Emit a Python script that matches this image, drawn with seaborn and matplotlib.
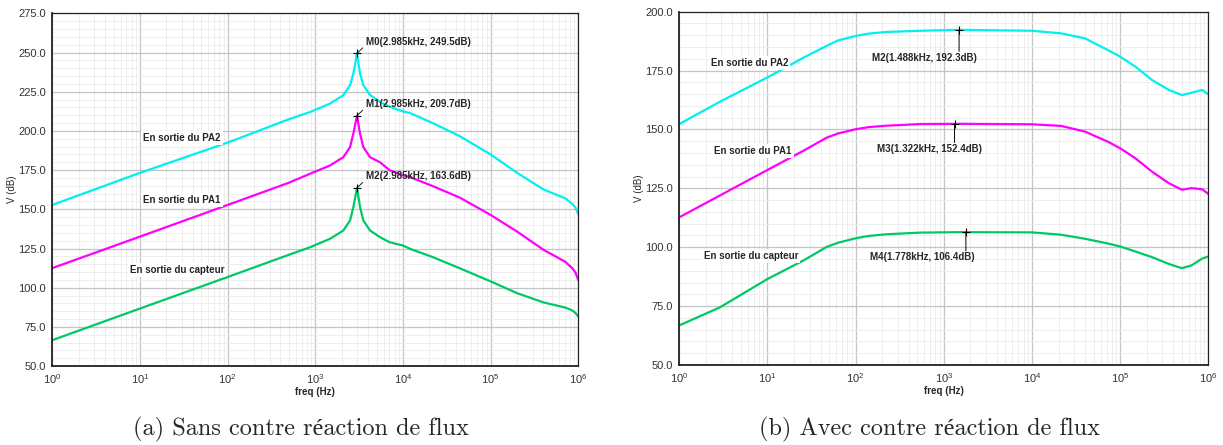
import matplotlib
matplotlib.use("Agg")
import matplotlib.pyplot as plt
import matplotlib.ticker as mticker
import pandas as pd
import seaborn as sns

# --- (a) sans contre reaction de flux ---
left_freq = [1, 10, 100, 500, 869, 1470, 2085, 2488, 2713, 2985, 3235, 3525, 4205,
             5470, 7030, 10000, 12000, 21900, 44700, 1e5, 2e5, 4e5, 7.1e5, 8.5e5, 9.3e5, 1e6]
left_pa2 = [152.8, 173.3, 192.6, 207.5, 212.1, 217.5, 222.8, 229.2, 236.6, 249.5, 236.6, 229.2, 223.0,
            218.5, 215.5, 212.5, 211.5, 205.0, 196.6, 185.0, 173.3, 162.7, 157.0, 153.5, 151.0, 146.8]
left_pa1 = [112.5, 132.6, 152.8, 167.0, 172.7, 178.0, 183.3, 189.7, 198.3, 209.7, 198.3, 189.7, 183.3,
            180.0, 175.0, 171.6, 170.6, 164.8, 157.4, 146.4, 135.8, 124.2, 116.5, 112.5, 109.5, 104.7]
left_capteur = [66.5, 86.7, 106.8, 121.0, 125.8, 131.2, 136.5, 142.9, 151.4, 163.6, 151.4, 142.9, 136.5,
                132.2, 129.0, 126.9, 124.8, 119.5, 112.3, 104.0, 96.5, 90.6, 87.3, 85.5, 83.8, 81.4]
left_markers = [("M0", 2985, 249.5), ("M1", 2985, 209.7), ("M2", 2985, 163.6)]

# --- (b) avec contre reaction de flux ---
right_freq = [1, 2.9, 10, 25.7, 46.8, 63, 100, 141, 224, 537, 1488, 10000, 21400, 39800, 72400,
              1e5, 148000, 229000, 355000, 500000, 646000, 851000, 1e6]
right_pa2 = [152.3, 161.8, 172.1, 180.5, 185.5, 187.8, 189.7, 190.7, 191.4, 191.9, 192.3, 191.9, 190.8,
             188.7, 183.7, 180.9, 176.7, 171.0, 166.8, 164.6, 165.6, 166.8, 164.9]
right_pa1 = [112.7, 122.0, 132.8, 141.0, 146.5, 148.3, 150.1, 151.0, 151.6, 152.3, 152.4, 152.2, 151.5,
             149.1, 144.8, 142.0, 137.8, 132.1, 127.2, 124.4, 125.1, 124.6, 122.6]
right_capteur = [66.8, 74.5, 86.5, 94.4, 100.1, 101.9, 103.8, 104.8, 105.5, 106.2, 106.4, 106.3, 105.3,
                 103.6, 101.6, 100.3, 98.2, 95.8, 92.9, 91.1, 92.3, 95.2, 96.1]
right_markers = [("M2", 1488, 192.3), ("M3", 1322, 152.4), ("M4", 1778, 106.4)]

series_names = ["En sortie du PA2", "En sortie du PA1", "En sortie du capteur"]
colors = ["#00f0f0", "#ff00ff", "#00c864"]
decades = [1, 10, 100, 1e3, 1e4, 1e5, 1e6]


def khz(f):
    return f"{f / 1000:.3f}kHz"


sns.set_style("white")
plt.rcParams["font.family"] = ["Liberation Sans", "DejaVu Sans"]

fig = plt.figure(figsize=(12.23, 4.45), dpi=100)
ax1 = fig.add_axes([0.0428, 0.1775, 0.4301, 0.7922])
ax2 = fig.add_axes([0.5554, 0.1798, 0.4327, 0.7939])


def setup(ax, ylo, yhi):
    ax.set_xscale("log")
    ax.set_xlim(1, 1e6)
    ax.set_ylim(ylo, yhi)
    ax.yaxis.set_major_locator(mticker.MultipleLocator(25))
    ax.yaxis.set_minor_locator(mticker.MultipleLocator(5))
    ax.yaxis.set_major_formatter(mticker.FormatStrFormatter("%.1f"))
    ax.xaxis.set_major_locator(mticker.FixedLocator(decades))
    ax.xaxis.set_major_formatter(mticker.LogFormatterSciNotation())
    minors = [d * k for d in decades[:-1] for k in range(2, 10)]
    ax.xaxis.set_minor_locator(mticker.FixedLocator(minors))
    ax.xaxis.set_minor_formatter(mticker.NullFormatter())
    ax.grid(which="major", color="#c4c4c4", lw=0.9)
    ax.grid(which="minor", color="#ebebeb", lw=0.6)
    ax.set_axisbelow(True)
    ax.tick_params(which="major", labelsize=8, labelcolor="#333333", length=3, width=0.8,
                   color="#333333", pad=1.5)
    ax.tick_params(which="minor", length=2, width=0.6, color="#555555")
    for s in ["top", "right"]:
        ax.spines[s].set_linewidth(0.9)
        ax.spines[s].set_color("#222222")
    for s in ["left", "bottom"]:
        ax.spines[s].set_linewidth(1.3)
        ax.spines[s].set_color("#222222")
    ax.set_ylabel("V (dB)", fontsize=7, labelpad=1)
    ax.set_xlabel("freq (Hz)", fontsize=7, fontweight="bold", labelpad=1)


def draw_curves(ax, freq, curves):
    df = pd.DataFrame({"freq": freq})
    for name, vals in zip(series_names, curves):
        df[name] = vals
    for name, col in zip(series_names, colors):
        sns.lineplot(data=df, x="freq", y=name, ax=ax, color=col, lw=1.6, sort=False)


setup(ax1, 50, 275)
draw_curves(ax1, left_freq, [left_pa2, left_pa1, left_capteur])
for name, f, v in left_markers:
    ax1.plot(f, v, marker="+", color="black", ms=6, mew=0.8)
    ax1.annotate(f"{name}({khz(f)}, {v}dB)", xy=(f, v), xytext=(6.5, 8.5), textcoords="offset points",
                 ha="left", va="center", fontsize=7, fontweight="bold",
                 arrowprops=dict(arrowstyle="-", lw=0.6, color="black", relpos=(0, 0.2),
                                 shrinkA=0, shrinkB=0))
label_pos1 = [(0.2466, 0.646), (0.2466, 0.471), (0.237, 0.273)]
for name, (tx, ty) in zip(series_names, label_pos1):
    ax1.text(tx, ty, name, transform=ax1.transAxes, ha="center", va="center", fontsize=7,
             fontweight="bold", bbox=dict(fc="white", ec="none", pad=1.5))

setup(ax2, 50, 200)
draw_curves(ax2, right_freq, [right_pa2, right_pa1, right_capteur])
right_text_off = [(13, -20), (20, -18), (6.5, -18)]
for (name, f, v), (dx, dy) in zip(right_markers, right_text_off):
    ax2.plot(f, v, marker="+", color="black", ms=6, mew=0.8)
    ax2.annotate("", xy=(f, v), xytext=(0, dy + 4.5), textcoords="offset points",
                 arrowprops=dict(arrowstyle="-", lw=0.7, color="black", shrinkA=0, shrinkB=0))
    ax2.annotate(f"{name}({khz(f)}, {v}dB)", xy=(f, v), xytext=(dx, dy), textcoords="offset points",
                 ha="right", va="center", fontsize=7, fontweight="bold")
label_pos2 = [(0.1327, 0.855), (0.1393, 0.606), (0.1355, 0.3085)]
for name, (tx, ty) in zip(series_names, label_pos2):
    ax2.text(tx, ty, name, transform=ax2.transAxes, ha="center", va="center", fontsize=7,
             fontweight="bold", bbox=dict(fc="white", ec="none", pad=1.5))

cap_font = ["cmr10", "Liberation Serif"]
fig.text(0.246, 0.034, "(a) Sans contre réaction de flux", ha="center", va="center",
         fontsize=17.5, family=cap_font)
fig.text(0.760, 0.034, "(b) Avec contre réaction de flux", ha="center", va="center",
         fontsize=17.5, family=cap_font)

fig.savefig("out.png", dpi=100)
